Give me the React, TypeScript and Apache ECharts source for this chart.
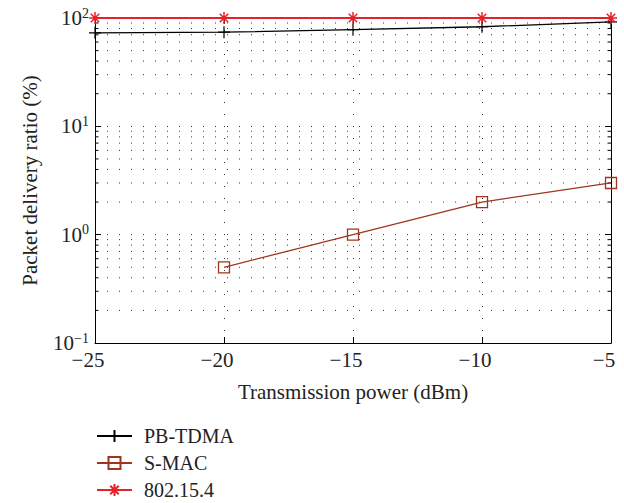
import React, { useEffect, useRef } from "react";
import * as echarts from "echarts";

const xValues = [-25, -20, -15, -10, -5];
const pbTdma = [73, 74, 78, 83, 92];
const sMacX = [-20, -15, -10, -5];
const sMac = [0.5, 1.0, 2.0, 3.0];
const ieee802154 = [100, 100, 100, 100, 100];
const seriesNames = ["PB-TDMA", "S-MAC", "802.15.4"];
const minorTickValues = [
  0.2, 0.3, 0.4, 0.5, 0.6, 0.7, 0.8, 0.9,
  2, 3, 4, 5, 6, 7, 8, 9,
  20, 30, 40, 50, 60, 70, 80, 90,
];
const xMin = -25;
const xMax = -5;
const yMin = 0.1;
const yMax = 100;

const FONT = "'Liberation Serif', 'DejaVu Serif', serif";
const TEXT = "#222";
const DOT: number[] = [1, 11];
const C_PB = "#000000";
const C_SMAC = "#a0351f";
const C_802 = "#e8202a";

const PLUS = "path://M0,-6L0,6M-6,0L6,0";
const STAR =
  "path://M0,-6L0,6M-6,0L6,0M-4.24,-4.24L4.24,4.24M-4.24,4.24L4.24,-4.24";

export default function App() {
  const ref = useRef<HTMLDivElement>(null);
  useEffect(() => {
    if (!ref.current) return;
    document.body.style.margin = "0";
    const chart = echarts.init(ref.current, undefined, { renderer: "svg" });
    const supFmt = (v: number) => {
      const e = Math.round(Math.log10(v));
      const s = e < 0 ? "\u2212" + -e : String(e);
      return `{b|10}{s|${s}}`;
    };
    chart.setOption({
      animation: false,
      backgroundColor: "#fff",
      textStyle: { fontFamily: FONT },
      grid: { left: 95, right: 13, top: 18, bottom: 160, containLabel: false },
      legend: {
        data: seriesNames,
        orient: "vertical",
        left: 96,
        top: 426,
        height: 76,
        padding: 0,
        itemWidth: 35,
        itemHeight: 15,
        itemGap: 7,
        textStyle: {
          fontFamily: FONT,
          fontSize: 20,
          lineHeight: 20,
          color: TEXT,
          padding: [0, 0, 0, 7],
        },
        inactiveColor: "#ccc",
      },
      xAxis: [
        {
          type: "value",
          min: xMin,
          max: xMax,
          interval: 5,
          name: "Transmission power (dBm)",
          nameLocation: "middle",
          nameGap: 38,
          nameTextStyle: { fontFamily: FONT, fontSize: 21, color: TEXT },
          axisLine: { show: true, onZero: false, lineStyle: { color: "#000", width: 1 } },
          axisTick: { show: true, inside: true, length: 6, lineStyle: { color: "#000" } },
          axisLabel: {
            fontFamily: FONT,
            fontSize: 21,
            color: TEXT,
            margin: 6,
            padding: [0, 14, 0, 0],
            formatter: (v: number) => String(v).replace("-", "\u2212"),
          },
          splitLine: { show: true, lineStyle: { color: "#333", width: 1, type: DOT } },
        },
        {
          type: "value",
          position: "top",
          min: xMin,
          max: xMax,
          interval: 5,
          axisLine: { show: true, onZero: false, lineStyle: { color: "#000", width: 1 } },
          axisTick: { show: true, inside: true, length: 6, lineStyle: { color: "#000" } },
          axisLabel: { show: false },
          splitLine: { show: false },
        },
      ],
      yAxis: [
        {
          type: "log",
          logBase: 10,
          min: yMin,
          max: yMax,
          name: "Packet delivery ratio (%)",
          nameLocation: "middle",
          nameGap: 55,
          nameTextStyle: { fontFamily: FONT, fontSize: 21, color: TEXT },
          axisLine: { show: true, onZero: false, lineStyle: { color: "#000", width: 1 } },
          axisTick: { show: true, inside: true, length: 6, lineStyle: { color: "#000" } },
          axisLabel: {
            margin: 6,
            color: TEXT,
            formatter: supFmt,
            rich: {
              b: { fontFamily: FONT, fontSize: 21, color: TEXT },
              s: {
                fontFamily: FONT,
                fontSize: 14,
                color: TEXT,
                verticalAlign: "bottom",
                padding: [0, 0, 10, 0],
              },
            },
          },
          splitLine: { show: true, lineStyle: { color: "#333", width: 1, type: DOT } },
        },
        {
          type: "log",
          logBase: 10,
          min: yMin,
          max: yMax,
          position: "right",
          axisLine: { show: true, onZero: false, lineStyle: { color: "#000", width: 1 } },
          axisTick: { show: true, inside: true, length: 6, lineStyle: { color: "#000" } },
          axisLabel: { show: false },
          splitLine: { show: false },
        },
      ],
      series: [
        {
          name: "minor-grid",
          type: "custom",
          silent: true,
          z: 1,
          xAxisIndex: 0,
          yAxisIndex: 0,
          encode: { x: 0, y: 1 },
          data: minorTickValues.map((v) => [xMin, v]),
          renderItem: (params: any, api: any) => {
            const v = api.value(1);
            const p1 = api.coord([xMin, v]);
            const p2 = api.coord([xMax, v]);
            return {
              type: "group",
              children: [
                {
                  type: "line",
                  shape: { x1: p1[0], y1: p1[1], x2: p2[0], y2: p2[1] },
                  style: { stroke: "#333", lineWidth: 1, lineDash: DOT },
                },
                {
                  type: "line",
                  shape: { x1: p1[0], y1: p1[1], x2: p1[0] + 3.5, y2: p1[1] },
                  style: { stroke: "#000", lineWidth: 1 },
                },
                {
                  type: "line",
                  shape: { x1: p2[0] - 3.5, y1: p2[1], x2: p2[0], y2: p2[1] },
                  style: { stroke: "#000", lineWidth: 1 },
                },
              ],
            };
          },
        },
        {
          name: "PB-TDMA",
          type: "line",
          z: 3,
          data: xValues.map((x, i) => [x, pbTdma[i]]),
          symbol: PLUS,
          symbolSize: 12,
          clip: false,
          lineStyle: { color: C_PB, width: 1.3 },
          itemStyle: { color: C_PB, borderColor: C_PB, borderWidth: 1.2 },
        },
        {
          name: "S-MAC",
          type: "line",
          z: 3,
          data: sMacX.map((x, i) => [x, sMac[i]]),
          symbol: "rect",
          symbolSize: 11,
          clip: false,
          lineStyle: { color: C_SMAC, width: 1.3 },
          itemStyle: { color: "rgba(0,0,0,0)", borderColor: C_SMAC, borderWidth: 1.3 },
        },
        {
          name: "802.15.4",
          type: "line",
          z: 4,
          data: xValues.map((x, i) => [x, ieee802154[i]]),
          symbol: STAR,
          symbolSize: 12,
          clip: false,
          lineStyle: { color: C_802, width: 2 },
          itemStyle: { color: C_802, borderColor: C_802, borderWidth: 1.5 },
        },
      ],
    });
    return () => chart.dispose();
  }, []);
  return <div ref={ref} style={{ width: 624, height: 503 }} />;
}
